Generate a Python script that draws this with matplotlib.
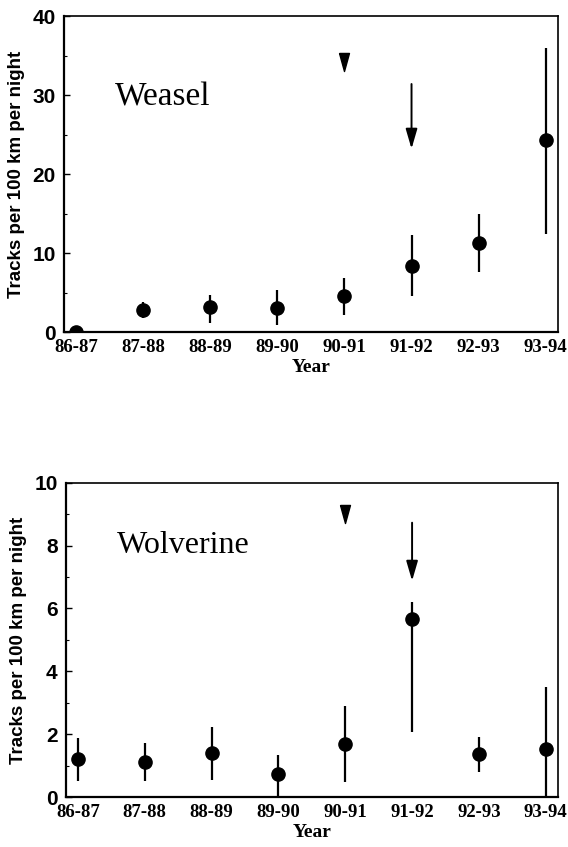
import matplotlib
matplotlib.use("Agg")
import matplotlib.pyplot as plt
from matplotlib.ticker import MultipleLocator
import numpy as np

years = ["86-87", "87-88", "88-89", "89-90", "90-91", "91-92", "92-93", "93-94"]

weasel_mean = [0.0, 2.8, 3.2, 3.0, 4.6, 8.4, 11.3, 24.3]
weasel_low = [0.0, 1.8, 1.2, 0.9, 2.2, 4.5, 7.6, 12.4]
weasel_high = [0.0, 3.8, 4.7, 5.3, 6.8, 12.3, 15.0, 36.0]

wolverine_mean = [1.21, 1.11, 1.40, 0.73, 1.69, 5.67, 1.37, 1.53]
wolverine_low = [0.51, 0.51, 0.54, 0.0, 0.48, 2.07, 0.80, 0.0]
wolverine_high = [1.88, 1.72, 2.23, 1.34, 2.90, 6.20, 1.91, 3.50]

# event markers: triangle at 90-91, arrow at 91-92
weasel_triangle = (4, 34.2)
weasel_arrow = (5, 31.4, 23.2)
wolverine_triangle = (4, 9.0)
wolverine_arrow = (5, 8.73, 6.88)

SERIF = "Liberation Serif"
SANS = "Liberation Sans"

fig = plt.figure(figsize=(5.68, 8.47), dpi=100)
ax1 = fig.add_axes([0.1127, 0.608, 0.8693, 0.373])
ax2 = fig.add_axes([0.116, 0.059, 0.866, 0.371])

tri_marker = [(-0.55, 1.0), (0.55, 1.0), (0.0, -1.0), (-0.55, 1.0)]


def panel(ax, mean, low, high, ymax, major, minor, name, name_y, name_size, tri, arr):
    x = np.arange(len(years))
    mean = np.array(mean)
    low = np.array(low)
    high = np.array(high)
    ax.vlines(x, low, high, color="black", lw=1.6, zorder=2)
    ax.plot(x, mean, "o", color="black", ms=9.5, zorder=3)
    ax.plot([tri[0]], [tri[1]], marker=tri_marker, color="black", ms=13, ls="none")
    ax.annotate("", xy=(arr[0], arr[2]), xytext=(arr[0], arr[1]),
                arrowprops=dict(arrowstyle="-|>,head_width=0.35,head_length=1.2",
                                color="black", lw=1.4, shrinkA=0, shrinkB=0))
    ax.set_xlim(-0.18, 7.18)
    ax.set_ylim(0, ymax)
    ax.set_xticks(x)
    ax.set_xticklabels(years, fontfamily=SERIF, fontweight="bold", fontsize=13.5)
    ax.yaxis.set_major_locator(MultipleLocator(major))
    ax.yaxis.set_minor_locator(MultipleLocator(minor))
    for lab in ax.get_yticklabels():
        lab.set_fontfamily(SANS)
        lab.set_fontweight("bold")
        lab.set_fontsize(15)
    ax.tick_params(axis="y", which="major", direction="in", length=4, width=1, pad=6)
    ax.tick_params(axis="y", which="minor", direction="in", length=2, width=0.8)
    ax.tick_params(axis="x", which="major", direction="in", length=0, pad=5)
    ax.tick_params(top=False, right=False)
    for s in ax.spines.values():
        s.set_linewidth(1.2)
    ax.spines["left"].set_linewidth(1.6)
    ax.spines["bottom"].set_linewidth(1.6)
    ax.set_xlabel("Year", fontfamily=SERIF, fontweight="bold", fontsize=14, labelpad=2)
    ax.set_ylabel("Tracks per 100 km per night", fontfamily=SANS, fontweight="bold",
                  fontsize=13.5, labelpad=5)
    ax.text(0.58, name_y, name, fontfamily=SERIF, fontsize=name_size, va="center", ha="left")


panel(ax1, weasel_mean, weasel_low, weasel_high, 40, 10, 5, "Weasel", 29.7, 24,
      weasel_triangle, weasel_arrow)
panel(ax2, wolverine_mean, wolverine_low, wolverine_high, 10, 2, 1, "Wolverine", 8.0, 23,
      wolverine_triangle, wolverine_arrow)

fig.savefig("out.png", dpi=100)
